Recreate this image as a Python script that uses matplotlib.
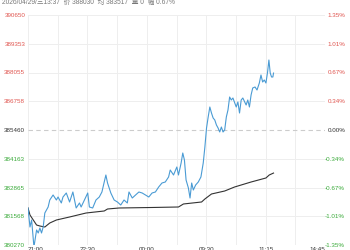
import matplotlib.pyplot as plt

plt.rcParams['font.family'] = ['Liberation Sans', 'Noto Sans CJK SC', 'DejaVu Sans']

# trading minutes since 21:00 and prices
price_min = [0, 3, 5.5, 9, 13, 15.5, 18, 20.5, 23, 25.5, 30.5, 33, 38, 43, 45.5, 50.5, 53, 58, 63, 68,
             73, 78, 80.5, 85.5, 90.5, 93, 98, 103, 108, 112, 115.5, 118, 120.5, 125.5, 130.5, 135.5,
             140.5, 145.5, 150.5, 153, 158, 163, 168, 173, 178, 183, 188, 193, 198, 203, 208, 213,
             215.5, 220.5, 225.5, 228, 232, 234.5, 237, 239.5, 243, 245.5, 248, 250.5, 254, 258, 262,
             265.5, 268, 270.5, 273, 275.5, 278, 280.5, 283, 285.5, 288, 290.5, 293, 295.5, 298,
             300.5, 303, 305.5, 308, 310.5, 315.5, 318, 320.5, 323, 325.5, 330.5, 333, 335.5, 338,
             340.5, 344, 347, 350.5, 353, 355.5, 358, 360.5, 363, 365, 367, 369, 371, 372]
price = [381940, 381082, 381398, 380180, 380947, 380812, 381037, 380812, 381082, 381714, 381985,
         382301, 382527, 382301, 382436, 382166, 382436, 382617, 382211, 382662, 381940, 382166,
         381985, 382301, 382617, 381985, 381940, 382301, 382436, 382662, 383113, 383429, 383068,
         382617, 382301, 382211, 382075, 382301, 382166, 382662, 382391, 382527, 382662, 382617,
         382527, 382436, 382617, 382662, 382888, 383068, 383113, 383339, 383655, 383429, 383790,
         383429, 383971, 384422, 384106, 383204, 382843, 382391, 383068, 382752, 382978, 383113,
         383339, 383971, 384693, 385550, 386047, 386498, 386227, 386002, 385911, 385686, 385550,
         385370, 385595, 385370, 385460, 386047, 386363, 386949, 386814, 386904, 386498, 386724,
         386227, 386814, 386904, 386588, 386814, 386498, 387040, 387356, 387401, 387265, 387581,
         387942, 387626, 387717, 387581, 388078, 388619, 388033, 387852, 387852, 388030]

avg_min = [0, 3, 8, 13, 18, 25.5, 33, 43, 63, 88, 115.5, 120.5, 138, 188, 228, 235.5, 263, 268,
           278, 298, 313, 338, 360.5, 365.5, 372]
avg = [381940, 381624, 381398, 381172, 381127, 381082, 381263, 381398, 381534, 381714, 381805,
       381895,381940, 381963, 381985, 382121, 382211, 382346, 382572, 382707, 382888, 383113,
       383294, 383429, 383517]

prev_close = 385460
y_levels = [390650, 389353, 388055, 386758, 385460, 384163, 382865, 381568, 380270]
pct_labels = ['1.35%', '1.01%', '0.67%', '0.34%', '0.00%', '-0.34%', '-0.67%', '-1.01%', '-1.35%']
x_ticks = [0, 90, 180, 270, 360, 450]
x_labels = ['21:00', '22:30', '00:00', '09:30', '11:15', '14:45']
header = '2026/04/29/三13:37  价 388030  均 383517  量 0  幅 0.67%'

red, green, dark = '#e0554f', '#3aaa3a', '#333333'

fig = plt.figure(figsize=(3.5, 2.5), dpi=100)
ax = fig.add_axes([28 / 350, 5 / 250, 297 / 350, 230 / 250])

for x in range(0, 451, 45):
    ax.axvline(x, color='#eeeeee', lw=0.7, zorder=0)
for y in y_levels:
    if y == prev_close:
        ax.axhline(y, color='#cccccc', lw=0.8, ls=(0, (4, 3)), zorder=0)
    else:
        ax.axhline(y, color='#eeeeee', lw=0.7, zorder=0)

ax.plot(avg_min, avg, color='#333333', lw=0.8)
ax.plot(price_min, price, color='#4a9bd4', lw=0.8)

ax.set_xlim(0, 450)
ax.set_ylim(380270, 390650)
for s in ax.spines.values():
    s.set_visible(False)

ax.set_yticks(y_levels)
ax.set_yticklabels([str(v) for v in y_levels], fontsize=4.5)
ax.tick_params(axis='y', length=0, pad=2)
for lab, v in zip(ax.get_yticklabels(), y_levels):
    lab.set_color(red if v > prev_close else (green if v < prev_close else dark))

ax2 = ax.twinx()
ax2.set_ylim(ax.get_ylim())
for s in ax2.spines.values():
    s.set_visible(False)
ax2.set_yticks(y_levels)
ax2.set_yticklabels(pct_labels, fontsize=4.5, ha='right')
ax2.tick_params(axis='y', length=0, pad=14.5)
for lab, v in zip(ax2.get_yticklabels(), y_levels):
    lab.set_color(red if v > prev_close else (green if v < prev_close else dark))

ax.set_xticks(x_ticks)
ax.set_xticklabels(x_labels, fontsize=4.5, color=dark)
ax.tick_params(axis='x', length=0, pad=1.5)
labs = ax.get_xticklabels()
labs[0].set_ha('left')
labs[-1].set_ha('right')

fig.text(0.006, 0.978, header, fontsize=4.8, color='#777777', va='bottom')

fig.savefig('out.png', dpi=100)
